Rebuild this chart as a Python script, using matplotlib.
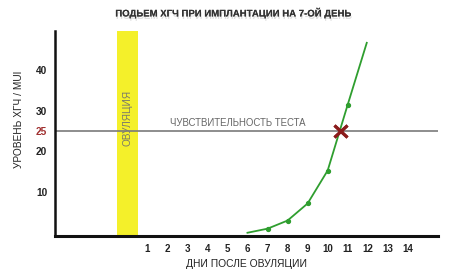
import matplotlib
matplotlib.use("Agg")
import matplotlib.pyplot as plt
import matplotlib.patheffects as pe

plt.rcParams['font.family'] = ['Liberation Sans', 'DejaVu Sans']

title = "ПОДЬЕМ ХГЧ ПРИ ИМПЛАНТАЦИИ НА 7-ОЙ ДЕНЬ"
xlabel = "ДНИ ПОСЛЕ ОВУЛЯЦИИ"
ylabel = "УРОВЕНЬ ХГЧ / MUI"
x_ticks = list(range(1, 15))
y_ticks = [10, 20, 25, 30, 40]
threshold = 25
threshold_label = "ЧУВСТВИТЕЛЬНОСТЬ ТЕСТА"
ovulation_day = 0
ovulation_label = "ОВУЛЯЦИЯ"

curve_days = [6, 7, 8, 9, 10, 11, 11.95]
curve_vals = [0, 1.0, 3.0, 7.2, 15.3, 31.5, 46.7]
marker_days = [7, 8, 9, 10, 11]
marker_vals = [1.0, 3.0, 7.2, 15.3, 31.5]
cross_day = 10.65
cross_val = 25

fig = plt.figure(figsize=(4.5, 2.77), dpi=100)
ax = fig.add_axes([0.1222, 0.148, 0.851, 0.740])
ax.set_xlim(-3.6, 15.5)
ax.set_ylim(-0.8, 49.6)

# ovulation band
ax.axvspan(ovulation_day - 0.52, ovulation_day + 0.52, ymin=0.0, ymax=1.0,
           color='#f4f02a', zorder=1, lw=0)
ax.text(ovulation_day, 28.2, ovulation_label, rotation=90, ha='center', va='center',
        fontsize=7.2, color='#7a7a6a', zorder=2)

# threshold line
ax.axhline(threshold, color='#7a7a7a', lw=1.2, zorder=2)
ax.text(2.15, threshold + 0.8, threshold_label, ha='left', va='bottom',
        fontsize=6.9, color='#666666', zorder=3)

# curve
ax.plot(curve_days, curve_vals, color='#2f9e2f', lw=1.3, zorder=4)
ax.plot(marker_days, marker_vals, 'o', color='#2f9e2f', ms=2.8, zorder=5)
ax.plot([cross_day], [cross_val], marker='x', color='#8b1c1c', ms=9, mew=2.2, zorder=6,
        path_effects=[pe.withSimplePatchShadow(offset=(1, -1), alpha=0.3), pe.Normal()])

# axes styling
for s in ['top', 'right']:
    ax.spines[s].set_visible(False)
ax.spines['left'].set_linewidth(1.8)
ax.spines['bottom'].set_linewidth(2.2)
ax.spines['left'].set_color('#111111')
ax.spines['bottom'].set_color('#111111')

ax.set_xticks(x_ticks)
ax.set_xticklabels([str(t) for t in x_ticks], fontsize=7, fontweight='bold', color='#222222')
ax.set_yticks(y_ticks)
ax.set_yticklabels([str(t) for t in y_ticks], fontsize=7.3, fontweight='bold', color='#222222')
ax.tick_params(axis='both', length=0)
ax.tick_params(axis='x', pad=5.5)
ax.tick_params(axis='y', pad=5.5)
for lbl in ax.get_yticklabels():
    if lbl.get_text() == str(threshold):
        lbl.set_color('#a03030')

ax.set_xlabel(xlabel, fontsize=7.4, color='#222222', labelpad=4, x=0.5)
ax.set_ylabel(ylabel, fontsize=7.3, color='#222222', labelpad=9, y=0.57)

fig.text(0.518, 0.955, title, ha='center', va='center', fontsize=6.9,
         fontweight='bold', color='#333333',
         path_effects=[pe.withSimplePatchShadow(offset=(0.5, -1.8), alpha=0.18,
                                                shadow_rgbFace='#555555'), pe.Normal()])

fig.savefig('out.png', dpi=100, facecolor='white')
